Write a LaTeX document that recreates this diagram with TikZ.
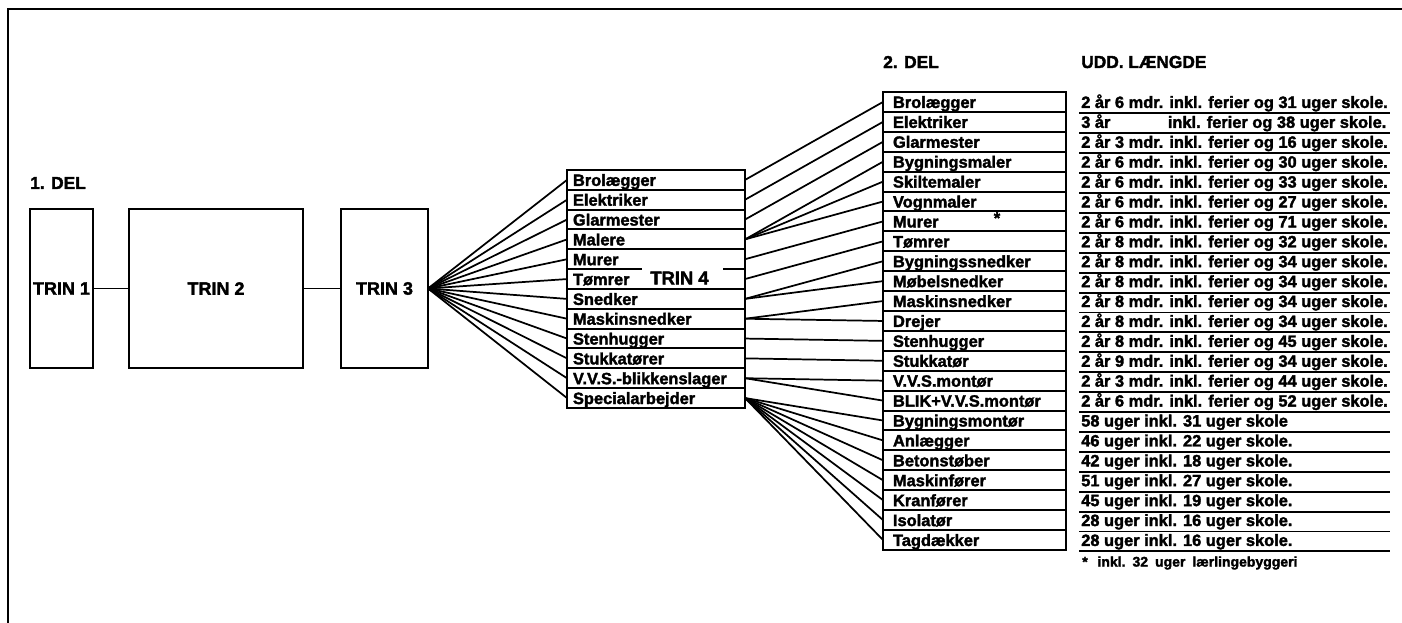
\documentclass[tikz,border=0pt]{standalone}
\usepackage{fontspec}
\setmainfont{Liberation Sans}[BoldFeatures={FakeBold=2}]
\begin{document}
\begin{tikzpicture}[x=0.75pt,y=-0.75pt,
  conn/.style={line width=1.3pt},
  frame/.style={line width=2.2pt},
  trin/.style={draw,line width=1.5pt,rectangle,inner sep=0pt,outer sep=0pt,minimum height=119.25pt,font=\fontsize{13.5}{16}\selectfont\bfseries},
  hdr/.style={anchor=west,inner sep=0pt,font=\fontsize{13}{16}\selectfont\bfseries},
  rowfont/.style={font=\fontsize{12.3}{14}\selectfont\bfseries},
  t4row/.style={rowfont,anchor=west,inner xsep=4.5pt,inner ysep=0pt,outer sep=0pt,text width=124.5pt,align=left,minimum height=14.87pt,text height=11pt,text depth=2pt},
  d2row/.style={rowfont,draw,line width=1.5pt,anchor=west,inner xsep=7.5pt,inner ysep=0pt,outer sep=0pt,text width=122.25pt,align=left,minimum height=14.93pt,text height=11pt,text depth=2pt},
  udd/.style={rowfont,anchor=west,inner sep=0pt,text height=11pt,text depth=2pt},
  uline/.style={line width=1.4pt},
  boxline/.style={line width=1.5pt}
]
\useasboundingbox (0,0) rectangle (1402,623);
% frame
\draw[frame] (1402,9) -- (8,9) -- (8,623);

% 1. DEL
\node[hdr] (del1) at (30,183) {1. DEL};
\node[trin,minimum width=47.25pt] (trin1) at (61.5,288.5) {TRIN 1};
\node[trin,minimum width=130.5pt] (trin2) at (216,288.5) {TRIN 2};
\node[trin,minimum width=65.25pt] (trin3) at (384.5,288.5) {TRIN 3};
\draw[conn] (trin1.east) -- (trin2.west);
\draw[conn] (trin2.east) -- (trin3.west);

% TRIN 4 list
\draw[boxline] (567,170) rectangle (745,408);
\foreach \k in {1,2,3,4,6,7,8,9,10,11}{
  \pgfmathsetmacro\ys{170+19.83*\k}
  \draw[boxline] (567,\ys) -- (745,\ys);
}
\draw[boxline] (567,269.15) -- (642,269.15);
\draw[boxline] (723,269.15) -- (745,269.15);
\foreach [count=\i from 0] \t in {Brolægger,Elektriker,Glarmester,Malere,Murer,Tømrer,Snedker,Maskinsnedker,Stenhugger,Stukkatører,V.V.S.-blikkenslager,Specialarbejder}{
  \pgfmathsetmacro\yc{170+19.83*(\i+0.5)}
  \node[t4row] (t4-\i) at (567,\yc) {\t};
}
\node[font=\fontsize{13.8}{16}\selectfont\bfseries,inner sep=0pt] (trin4) at (679.5,278) {TRIN 4};

% 2. DEL
\node[hdr] (del2) at (883,62) {2. DEL};
\node[hdr] (uddl) at (1081,62) {UDD. LÆNGDE};
\foreach [count=\i from 0] \t in {Brolægger,Elektriker,Glarmester,Bygningsmaler,Skiltemaler,Vognmaler,Murer,Tømrer,Bygningssnedker,Møbelsnedker,Maskinsnedker,Drejer,Stenhugger,Stukkatør,V.V.S.montør,BLIK+V.V.S.montør,Bygningsmontør,Anlægger,Betonstøber,Maskinfører,Kranfører,Isolatør,Tagdækker}{
  \pgfmathsetmacro\yc{92+19.91*(\i+0.5)}
  \node[d2row] (d2-\i) at (883,\yc) {\t};
}
\node[rowfont,inner sep=0pt] (star) at (997,218) {*};

% durations
\foreach [count=\i from 0] \t in {
 2 år 6 mdr. inkl. ferier og 31 uger skole.,
 {3 år\hphantom{ 6 mdr.} inkl. ferier og 38 uger skole.},
 2 år 3 mdr. inkl. ferier og 16 uger skole.,
 2 år 6 mdr. inkl. ferier og 30 uger skole.,
 2 år 6 mdr. inkl. ferier og 33 uger skole.,
 2 år 6 mdr. inkl. ferier og 27 uger skole.,
 2 år 6 mdr. inkl. ferier og 71 uger skole.,
 2 år 8 mdr. inkl. ferier og 32 uger skole.,
 2 år 8 mdr. inkl. ferier og 34 uger skole.,
 2 år 8 mdr. inkl. ferier og 34 uger skole.,
 2 år 8 mdr. inkl. ferier og 34 uger skole.,
 2 år 8 mdr. inkl. ferier og 34 uger skole.,
 2 år 8 mdr. inkl. ferier og 45 uger skole.,
 2 år 9 mdr. inkl. ferier og 34 uger skole.,
 2 år 3 mdr. inkl. ferier og 44 uger skole.,
 2 år 6 mdr. inkl. ferier og 52 uger skole.,
 58 uger inkl. 31 uger skole,
 46 uger inkl. 22 uger skole.,
 42 uger inkl. 18 uger skole.,
 51 uger inkl. 27 uger skole.,
 45 uger inkl. 19 uger skole.,
 28 uger inkl. 16 uger skole.,
 28 uger inkl. 16 uger skole.}{
  \pgfmathsetmacro\yc{92+19.91*(\i+0.5)}
  \pgfmathsetmacro\yu{92+19.91*(\i+1)+1.5}
  \node[udd] (ud-\i) at (1081,\yc) {\t};
  \draw[uline] (1079,\yu) -- (1390,\yu);
}
\node[anchor=west,inner sep=0pt,font=\fontsize{10.5}{12}\selectfont\bfseries] (note) at (1082,563) {*\hspace{0.7em}inkl.\hspace{0.5em}32\hspace{0.5em}uger\hspace{0.5em}lærlingebyggeri};

% connectors
\foreach \i in {0,...,11}{
  \draw[conn] (trin3.east) -- (t4-\i.west);
}
\foreach \a/\b in {0/0,1/1,2/2,3/3,3/4,3/5,4/6,5/7,6/8,6/9,7/10,7/11,8/12,9/13,10/14,10/15,11/16,11/17,11/18,11/19,11/20,11/21,11/22}{
  \draw[conn] (t4-\a.east) -- (d2-\b.west);
}
\end{tikzpicture}
\end{document}
